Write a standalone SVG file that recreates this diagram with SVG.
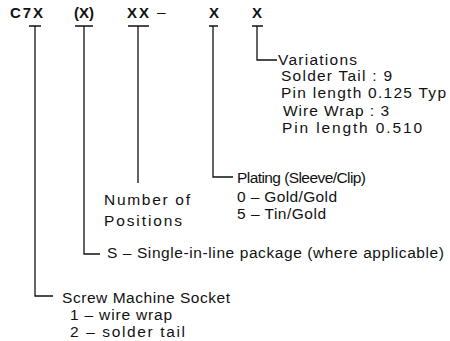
<svg xmlns="http://www.w3.org/2000/svg" width="450" height="341" viewBox="0 0 450 341">
<style>
.b{font-family:"Liberation Sans",Arial,sans-serif;font-weight:bold;font-size:15px;fill:#111}
.t{font-family:"Liberation Sans",Arial,sans-serif;font-size:15.5px;fill:#111}
.ln{fill:none;stroke:#111;stroke-width:1.3}
</style>
<rect width="450" height="341" fill="#fff"/>
<g id="code">
<text class="b" x="10" y="18" textLength="33" lengthAdjust="spacing">C7X</text>
<text class="b" x="74" y="18" textLength="20" lengthAdjust="spacing">(X)</text>
<text class="b" x="127" y="18" textLength="22" lengthAdjust="spacing">XX</text>
<text class="t" x="157" y="17">–</text>
<text class="b" x="209" y="18">X</text>
<text class="b" x="252" y="18">X</text>
</g>
<g id="connectors">
<path class="ln" d="M29 26H41M35 26V296H53"/>
<path class="ln" d="M75 26H93M84 26V254H100"/>
<path class="ln" d="M128 26H149M138 26V183"/>
<path class="ln" d="M209 26H218M213 26V177H233"/>
<path class="ln" d="M252 26H263M257 26V60H277"/>
</g>
<g id="variations">
<text class="t" x="278" y="65" textLength="79" lengthAdjust="spacing">Variations</text>
<text class="t" x="281" y="81" textLength="111" lengthAdjust="spacing">Solder Tail :  9</text>
<text class="t" x="281" y="98" textLength="165" lengthAdjust="spacing">Pin length 0.125 Typ</text>
<text class="t" x="283" y="116" textLength="106" lengthAdjust="spacing">Wire Wrap :  3</text>
<text class="t" x="282" y="133" textLength="140" lengthAdjust="spacing">Pin length 0.510</text>
</g>
<g id="plating">
<text class="t" x="237" y="183" textLength="129" lengthAdjust="spacing">Plating (Sleeve/Clip)</text>
<text class="t" x="237" y="202" textLength="100" lengthAdjust="spacing">0 – Gold/Gold</text>
<text class="t" x="237" y="219" textLength="89" lengthAdjust="spacing">5 – Tin/Gold</text>
</g>
<g id="positions">
<text class="t" x="104" y="205" textLength="86" lengthAdjust="spacing">Number of</text>
<text class="t" x="104" y="226" textLength="78" lengthAdjust="spacing">Positions</text>
</g>
<g id="package">
<text class="t" x="107" y="258" textLength="337" lengthAdjust="spacing">S – Single-in-line package (where applicable)</text>
</g>
<g id="socket">
<text class="t" x="62" y="303" textLength="168" lengthAdjust="spacing">Screw Machine Socket</text>
<text class="t" x="70" y="320" textLength="102" lengthAdjust="spacing">1 – wire wrap</text>
<text class="t" x="70" y="337" textLength="115" lengthAdjust="spacing">2 – solder tail</text>
</g>
</svg>
